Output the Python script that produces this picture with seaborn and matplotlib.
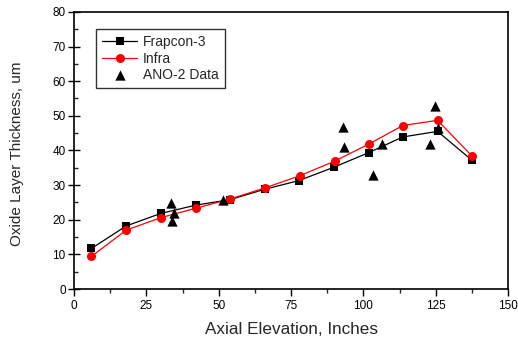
import matplotlib
matplotlib.use("Agg")
import matplotlib.pyplot as plt
import seaborn as sns
import numpy as np
from matplotlib.ticker import MultipleLocator

# Axial elevation (inches) and oxide thickness (um)
frapcon_x = [6.0, 18.0, 29.9, 42.0, 53.9, 65.9, 77.7, 89.9, 101.9, 113.6, 125.6, 137.6]
frapcon_y = [11.7, 18.2, 21.8, 24.2, 25.8, 28.8, 31.3, 35.2, 39.4, 43.9, 45.5, 37.1]

infra_x = [6.0, 18.0, 30.0, 42.0, 54.0, 66.0, 78.0, 90.0, 102.0, 113.6, 125.6, 137.6]
infra_y = [9.4, 17.0, 20.6, 23.3, 26.0, 29.2, 32.7, 36.9, 41.9, 47.2, 48.7, 38.3]

ano2_x = [33.4, 34.6, 33.9, 51.5, 93.1, 93.3, 103.3, 106.4, 122.9, 124.6, 125.8]
ano2_y = [24.8, 22.0, 19.6, 25.6, 46.7, 40.9, 32.9, 41.8, 41.8, 52.8, 46.6]

x_ticks = [0, 25, 50, 75, 100, 125, 150]
y_ticks = [0, 10, 20, 30, 40, 50, 60, 70, 80]

sns.set_theme(style="ticks")
plt.rcParams["font.family"] = ["Liberation Sans", "DejaVu Sans"]

fig, ax = plt.subplots(figsize=(5.18, 3.40), dpi=100)
fig.subplots_adjust(left=0.143, right=0.981, top=0.965, bottom=0.150)

sns.lineplot(x=frapcon_x, y=frapcon_y, ax=ax, color="black", marker="s",
             markersize=5.5, markeredgewidth=0, linewidth=0.9, label="Frapcon-3",
             sort=False, zorder=3)
sns.lineplot(x=infra_x, y=infra_y, ax=ax, color="#ff0000", marker="o",
             markersize=6.5, markeredgewidth=0, linewidth=0.9, label="Infra",
             sort=False, zorder=4)
sns.scatterplot(x=ano2_x, y=ano2_y, ax=ax, color="black", marker="^", s=55,
                linewidth=0, label="ANO-2 Data", zorder=5)

ax.set_xlim(0, 150)
ax.set_ylim(0, 80)
ax.set_xticks(x_ticks)
ax.set_yticks(y_ticks)
ax.xaxis.set_minor_locator(MultipleLocator(12.5))
ax.yaxis.set_minor_locator(MultipleLocator(5))
ax.tick_params(axis="x", which="major", direction="out", length=5, width=1,
               labelsize=8.5, pad=3, colors="black")
ax.tick_params(axis="x", which="minor", direction="out", length=3, width=1)
ax.tick_params(axis="y", which="major", direction="inout", length=8, width=1,
               labelsize=8.5, pad=2, colors="black")
ax.tick_params(axis="y", which="minor", direction="in", length=3, width=1)

for s in ax.spines.values():
    s.set_visible(True)
    s.set_linewidth(1.2)
    s.set_color("black")

ax.set_xlabel("Axial Elevation, Inches", fontsize=12.3, labelpad=7)
ax.set_ylabel("Oxide Layer Thickness, um", fontsize=11.0)
ax.yaxis.set_label_coords(-0.116, 0.489)

leg = ax.legend(loc="upper left", bbox_to_anchor=(0.051, 0.939), borderaxespad=0,
                fontsize=10, frameon=True, fancybox=False, handlelength=2.5,
                handletextpad=0.4, labelspacing=0.18, borderpad=0.45)
leg.get_frame().set_edgecolor("black")
leg.get_frame().set_linewidth(1.0)

fig.savefig("out.png", dpi=100)
